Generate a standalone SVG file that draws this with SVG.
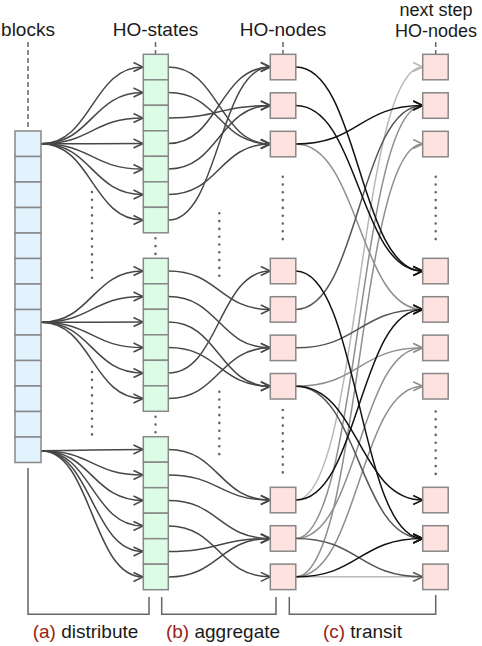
<svg xmlns="http://www.w3.org/2000/svg" width="482" height="646" viewBox="0 0 482 646">
<style>
text{font-family:"Liberation Sans",Arial,sans-serif;font-size:19px;fill:#1a1a1a}
.lbl{text-anchor:middle}
.sm{font-size:18px}
.red{fill:#9b1d12}
.blk{fill:#e3f3fd;stroke:#888;stroke-width:1.5}
.st{fill:#dcfce6;stroke:#888;stroke-width:1.5}
.nd{fill:#fde2df;stroke:#888;stroke-width:1.5}
.dash{stroke:#666;stroke-width:1.5;stroke-dasharray:5 3;fill:none}
.dots{stroke:#666;stroke-width:2.6;stroke-linecap:round;stroke-dasharray:0 7.8;fill:none}
.br{stroke:#666;stroke-width:1.5;fill:none}
.c{fill:none;stroke-width:1.5}
.d{stroke:#474747;marker-end:url(#mk-d)}
.k{stroke:#111;marker-end:url(#mk-k)}
.m{stroke:#555;marker-end:url(#mk-m)}
.g{stroke:#8e8e8e;marker-end:url(#mk-g)}
.l{stroke:#b8b8b8;marker-end:url(#mk-l)}
</style>
<defs>
<marker id="mk-d" viewBox="-11 -6 12 12" refX="0" refY="0" markerWidth="12" markerHeight="12" markerUnits="userSpaceOnUse" orient="auto"><path d="M-9.5 -4.5 L0 0 L-9.5 4.5" fill="none" stroke="#474747" stroke-width="1.5"/></marker>
<marker id="mk-k" viewBox="-11 -6 12 12" refX="0" refY="0" markerWidth="12" markerHeight="12" markerUnits="userSpaceOnUse" orient="auto"><path d="M-9.5 -4.5 L0 0 L-9.5 4.5" fill="none" stroke="#111" stroke-width="1.5"/></marker>
<marker id="mk-m" viewBox="-11 -6 12 12" refX="0" refY="0" markerWidth="12" markerHeight="12" markerUnits="userSpaceOnUse" orient="auto"><path d="M-9.5 -4.5 L0 0 L-9.5 4.5" fill="none" stroke="#555" stroke-width="1.5"/></marker>
<marker id="mk-g" viewBox="-11 -6 12 12" refX="0" refY="0" markerWidth="12" markerHeight="12" markerUnits="userSpaceOnUse" orient="auto"><path d="M-9.5 -4.5 L0 0 L-9.5 4.5" fill="none" stroke="#8e8e8e" stroke-width="1.5"/></marker>
<marker id="mk-l" viewBox="-11 -6 12 12" refX="0" refY="0" markerWidth="12" markerHeight="12" markerUnits="userSpaceOnUse" orient="auto"><path d="M-9.5 -4.5 L0 0 L-9.5 4.5" fill="none" stroke="#b8b8b8" stroke-width="1.5"/></marker>
</defs>

<g id="headers">
<text class="lbl" x="28" y="35.5">blocks</text>
<text class="lbl" x="155.5" y="35.5">HO-states</text>
<text class="lbl" x="283" y="35.5">HO-nodes</text>
<text class="lbl sm" x="436" y="16.4">next step</text>
<text class="lbl sm" x="436" y="37">HO-nodes</text>
<path class="dash" d="M28 42 V130 M155.5 42 V54 M283 42 V54 M435.7 42 V54"/>
</g>

<g id="dotted-gaps">
<path class="dots" d="M92 192 V282 M92 372 V437 M155.5 238.3 V255 M155.5 416.7 V433 M219.3 213.3 V279 M219.3 391.7 V456 M282.8 176.7 V242 M282.8 410 V476 M435.7 176.7 V242 M435.7 411.5 V476"/>
</g>

<g id="connectors">
<!-- (a) distribute -->
<path class="c d" d="M41 143.75 C92 143.75,92 67.05,143 67.05"/>
<path class="c d" d="M41 143.75 C92 143.75,92 92.55,143 92.55"/>
<path class="c d" d="M41 143.75 C92 143.75,92 118.05,143 118.05"/>
<path class="c d" d="M41 143.75 C92 143.75,92 143.55,143 143.55"/>
<path class="c d" d="M41 143.75 C92 143.75,92 169.05,143 169.05"/>
<path class="c d" d="M41 143.75 C92 143.75,92 194.55,143 194.55"/>
<path class="c d" d="M41 143.75 C92 143.75,92 220.05,143 220.05"/>
<path class="c d" d="M41 322.25 C92 322.25,92 271.05,143 271.05"/>
<path class="c d" d="M41 322.25 C92 322.25,92 296.55,143 296.55"/>
<path class="c d" d="M41 322.25 C92 322.25,92 322.05,143 322.05"/>
<path class="c d" d="M41 322.25 C92 322.25,92 347.55,143 347.55"/>
<path class="c d" d="M41 322.25 C92 322.25,92 373.05,143 373.05"/>
<path class="c d" d="M41 322.25 C92 322.25,92 398.55,143 398.55"/>
<path class="c d" d="M41 450.75 C92 450.75,92 449.45,143 449.45"/>
<path class="c d" d="M41 450.75 C92 450.75,92 474.95,143 474.95"/>
<path class="c d" d="M41 450.75 C92 450.75,92 500.45,143 500.45"/>
<path class="c d" d="M41 450.75 C92 450.75,92 525.95,143 525.95"/>
<path class="c d" d="M41 450.75 C92 450.75,92 551.45,143 551.45"/>
<path class="c d" d="M41 450.75 C92 450.75,92 576.95,143 576.95"/>
<!-- (b) aggregate -->
<path class="c d" d="M168.3 67.05 C219 67.05,219 144.05,270.3 144.05"/>
<path class="c d" d="M168.3 92.55 C219 92.55,219 144.05,270.3 144.05"/>
<path class="c d" d="M168.3 118.05 C219 118.05,219 105.55,270.3 105.55"/>
<path class="c d" d="M168.3 143.55 C219 143.55,219 67.05,270.3 67.05"/>
<path class="c d" d="M168.3 169.05 C219 169.05,219 105.55,270.3 105.55"/>
<path class="c d" d="M168.3 194.55 C219 194.55,219 144.05,270.3 144.05"/>
<path class="c d" d="M168.3 220.05 C219 220.05,219 67.05,270.3 67.05"/>
<path class="c d" d="M168.3 271.05 C219 271.05,219 309.45,270.3 309.45"/>
<path class="c d" d="M168.3 296.55 C219 296.55,219 347.85,270.3 347.85"/>
<path class="c d" d="M168.3 322.05 C219 322.05,219 386.25,270.3 386.25"/>
<path class="c d" d="M168.3 347.55 C219 347.55,219 386.25,270.3 386.25"/>
<path class="c d" d="M168.3 373.05 C219 373.05,219 271.05,270.3 271.05"/>
<path class="c d" d="M168.3 398.55 C219 398.55,219 347.85,270.3 347.85"/>
<path class="c d" d="M168.3 449.45 C219 449.45,219 500.05,270.3 500.05"/>
<path class="c d" d="M168.3 474.95 C219 474.95,219 500.05,270.3 500.05"/>
<path class="c d" d="M168.3 500.45 C219 500.45,219 538.45,270.3 538.45"/>
<path class="c d" d="M168.3 525.95 C219 525.95,219 576.85,270.3 576.85"/>
<path class="c d" d="M168.3 551.45 C219 551.45,219 538.45,270.3 538.45"/>
<path class="c d" d="M168.3 576.95 C219 576.95,219 538.45,270.3 538.45"/>
<!-- (c) transit: light -->
<path class="c l" d="M295.8 500.05 C359 500.05,359 67.05,422.7 67.05"/>
<path class="c l" d="M295.8 576.85 C359 576.85,359 576.85,422.7 576.85"/>
<!-- gray -->
<path class="c g" d="M295.8 144.05 C359 144.05,359 309.45,422.7 309.45"/>
<path class="c g" d="M295.8 386.25 C359 386.25,359 347.85,422.7 347.85"/>
<path class="c g" d="M295.8 538.45 C359 538.45,359 105.55,422.7 105.55"/>
<path class="c g" d="M295.8 538.45 C359 538.45,359 347.85,422.7 347.85"/>
<path class="c g" d="M295.8 576.85 C359 576.85,359 386.25,422.7 386.25"/>
<path class="c g" d="M295.8 576.85 C359 576.85,359 144.05,422.7 144.05"/>
<!-- dark gray -->
<path class="c m" d="M295.8 309.45 C359 309.45,359 105.55,422.7 105.55"/>
<path class="c m" d="M295.8 347.85 C359 347.85,359 309.45,422.7 309.45"/>
<path class="c m" d="M295.8 386.25 C359 386.25,359 538.45,422.7 538.45"/>
<path class="c m" d="M295.8 538.45 C359 538.45,359 576.85,422.7 576.85"/>
<!-- black -->
<path class="c k" d="M295.8 67.05 C359 67.05,359 271.05,422.7 271.05"/>
<path class="c k" d="M295.8 105.55 C359 105.55,359 271.05,422.7 271.05"/>
<path class="c k" d="M295.8 144.05 C359 144.05,359 105.55,422.7 105.55"/>
<path class="c k" d="M295.8 271.05 C359 271.05,359 538.45,422.7 538.45"/>
<path class="c k" d="M295.8 386.25 C359 386.25,359 500.05,422.7 500.05"/>
<path class="c k" d="M295.8 500.05 C359 500.05,359 309.45,422.7 309.45"/>
<path class="c k" d="M295.8 576.85 C359 576.85,359 538.45,422.7 538.45"/>
</g>

<g id="blocks">
<rect class="blk" x="15" y="131" width="26" height="25.5"/>
<rect class="blk" x="15" y="156.5" width="26" height="25.5"/>
<rect class="blk" x="15" y="182" width="26" height="25.5"/>
<rect class="blk" x="15" y="207.5" width="26" height="25.5"/>
<rect class="blk" x="15" y="233" width="26" height="25.5"/>
<rect class="blk" x="15" y="258.5" width="26" height="25.5"/>
<rect class="blk" x="15" y="284" width="26" height="25.5"/>
<rect class="blk" x="15" y="309.5" width="26" height="25.5"/>
<rect class="blk" x="15" y="335" width="26" height="25.5"/>
<rect class="blk" x="15" y="360.5" width="26" height="25.5"/>
<rect class="blk" x="15" y="386" width="26" height="25.5"/>
<rect class="blk" x="15" y="411.5" width="26" height="25.5"/>
<rect class="blk" x="15" y="437" width="26" height="25.5"/>
</g>

<g id="ho-states-1">
<rect class="st" x="143.3" y="54.3" width="25" height="25.5"/>
<rect class="st" x="143.3" y="79.8" width="25" height="25.5"/>
<rect class="st" x="143.3" y="105.3" width="25" height="25.5"/>
<rect class="st" x="143.3" y="130.8" width="25" height="25.5"/>
<rect class="st" x="143.3" y="156.3" width="25" height="25.5"/>
<rect class="st" x="143.3" y="181.8" width="25" height="25.5"/>
<rect class="st" x="143.3" y="207.3" width="25" height="25.5"/>
</g>
<g id="ho-states-2">
<rect class="st" x="143.3" y="258.3" width="25" height="25.5"/>
<rect class="st" x="143.3" y="283.8" width="25" height="25.5"/>
<rect class="st" x="143.3" y="309.3" width="25" height="25.5"/>
<rect class="st" x="143.3" y="334.8" width="25" height="25.5"/>
<rect class="st" x="143.3" y="360.3" width="25" height="25.5"/>
<rect class="st" x="143.3" y="385.8" width="25" height="25.5"/>
</g>
<g id="ho-states-3">
<rect class="st" x="143.3" y="436.7" width="25" height="25.5"/>
<rect class="st" x="143.3" y="462.2" width="25" height="25.5"/>
<rect class="st" x="143.3" y="487.7" width="25" height="25.5"/>
<rect class="st" x="143.3" y="513.2" width="25" height="25.5"/>
<rect class="st" x="143.3" y="538.7" width="25" height="25.5"/>
<rect class="st" x="143.3" y="564.2" width="25" height="25.5"/>
</g>

<g id="ho-node-a0"><rect class="nd" x="270.3" y="54.3" width="25.5" height="25.5"/></g>
<g id="ho-node-a1"><rect class="nd" x="270.3" y="92.8" width="25.5" height="25.5"/></g>
<g id="ho-node-a2"><rect class="nd" x="270.3" y="131.3" width="25.5" height="25.5"/></g>
<g id="ho-node-b0"><rect class="nd" x="270.3" y="258.3" width="25.5" height="25.5"/></g>
<g id="ho-node-b1"><rect class="nd" x="270.3" y="296.7" width="25.5" height="25.5"/></g>
<g id="ho-node-b2"><rect class="nd" x="270.3" y="335.1" width="25.5" height="25.5"/></g>
<g id="ho-node-b3"><rect class="nd" x="270.3" y="373.5" width="25.5" height="25.5"/></g>
<g id="ho-node-c0"><rect class="nd" x="270.3" y="487.3" width="25.5" height="25.5"/></g>
<g id="ho-node-c1"><rect class="nd" x="270.3" y="525.7" width="25.5" height="25.5"/></g>
<g id="ho-node-c2"><rect class="nd" x="270.3" y="564.1" width="25.5" height="25.5"/></g>

<g id="next-node-a0"><rect class="nd" x="422.7" y="54.3" width="25.5" height="25.5"/></g>
<g id="next-node-a1"><rect class="nd" x="422.7" y="92.8" width="25.5" height="25.5"/></g>
<g id="next-node-a2"><rect class="nd" x="422.7" y="131.3" width="25.5" height="25.5"/></g>
<g id="next-node-b0"><rect class="nd" x="422.7" y="258.3" width="25.5" height="25.5"/></g>
<g id="next-node-b1"><rect class="nd" x="422.7" y="296.7" width="25.5" height="25.5"/></g>
<g id="next-node-b2"><rect class="nd" x="422.7" y="335.1" width="25.5" height="25.5"/></g>
<g id="next-node-b3"><rect class="nd" x="422.7" y="373.5" width="25.5" height="25.5"/></g>
<g id="next-node-c0"><rect class="nd" x="422.7" y="487.3" width="25.5" height="25.5"/></g>
<g id="next-node-c1"><rect class="nd" x="422.7" y="525.7" width="25.5" height="25.5"/></g>
<g id="next-node-c2"><rect class="nd" x="422.7" y="564.1" width="25.5" height="25.5"/></g>

<g id="brackets">
<path class="br" d="M28 468 V614.3 H149 V597"/>
<path class="br" d="M161.7 597 V614.3 H276 V597"/>
<path class="br" d="M289.3 597 V614.3 H435.7 V595"/>
<text class="lbl" x="85.5" y="638"><tspan class="red">(a)</tspan> distribute</text>
<text class="lbl" x="223" y="638"><tspan class="red">(b)</tspan> aggregate</text>
<text class="lbl" x="362.5" y="638"><tspan class="red">(c)</tspan> transit</text>
</g>
</svg>
